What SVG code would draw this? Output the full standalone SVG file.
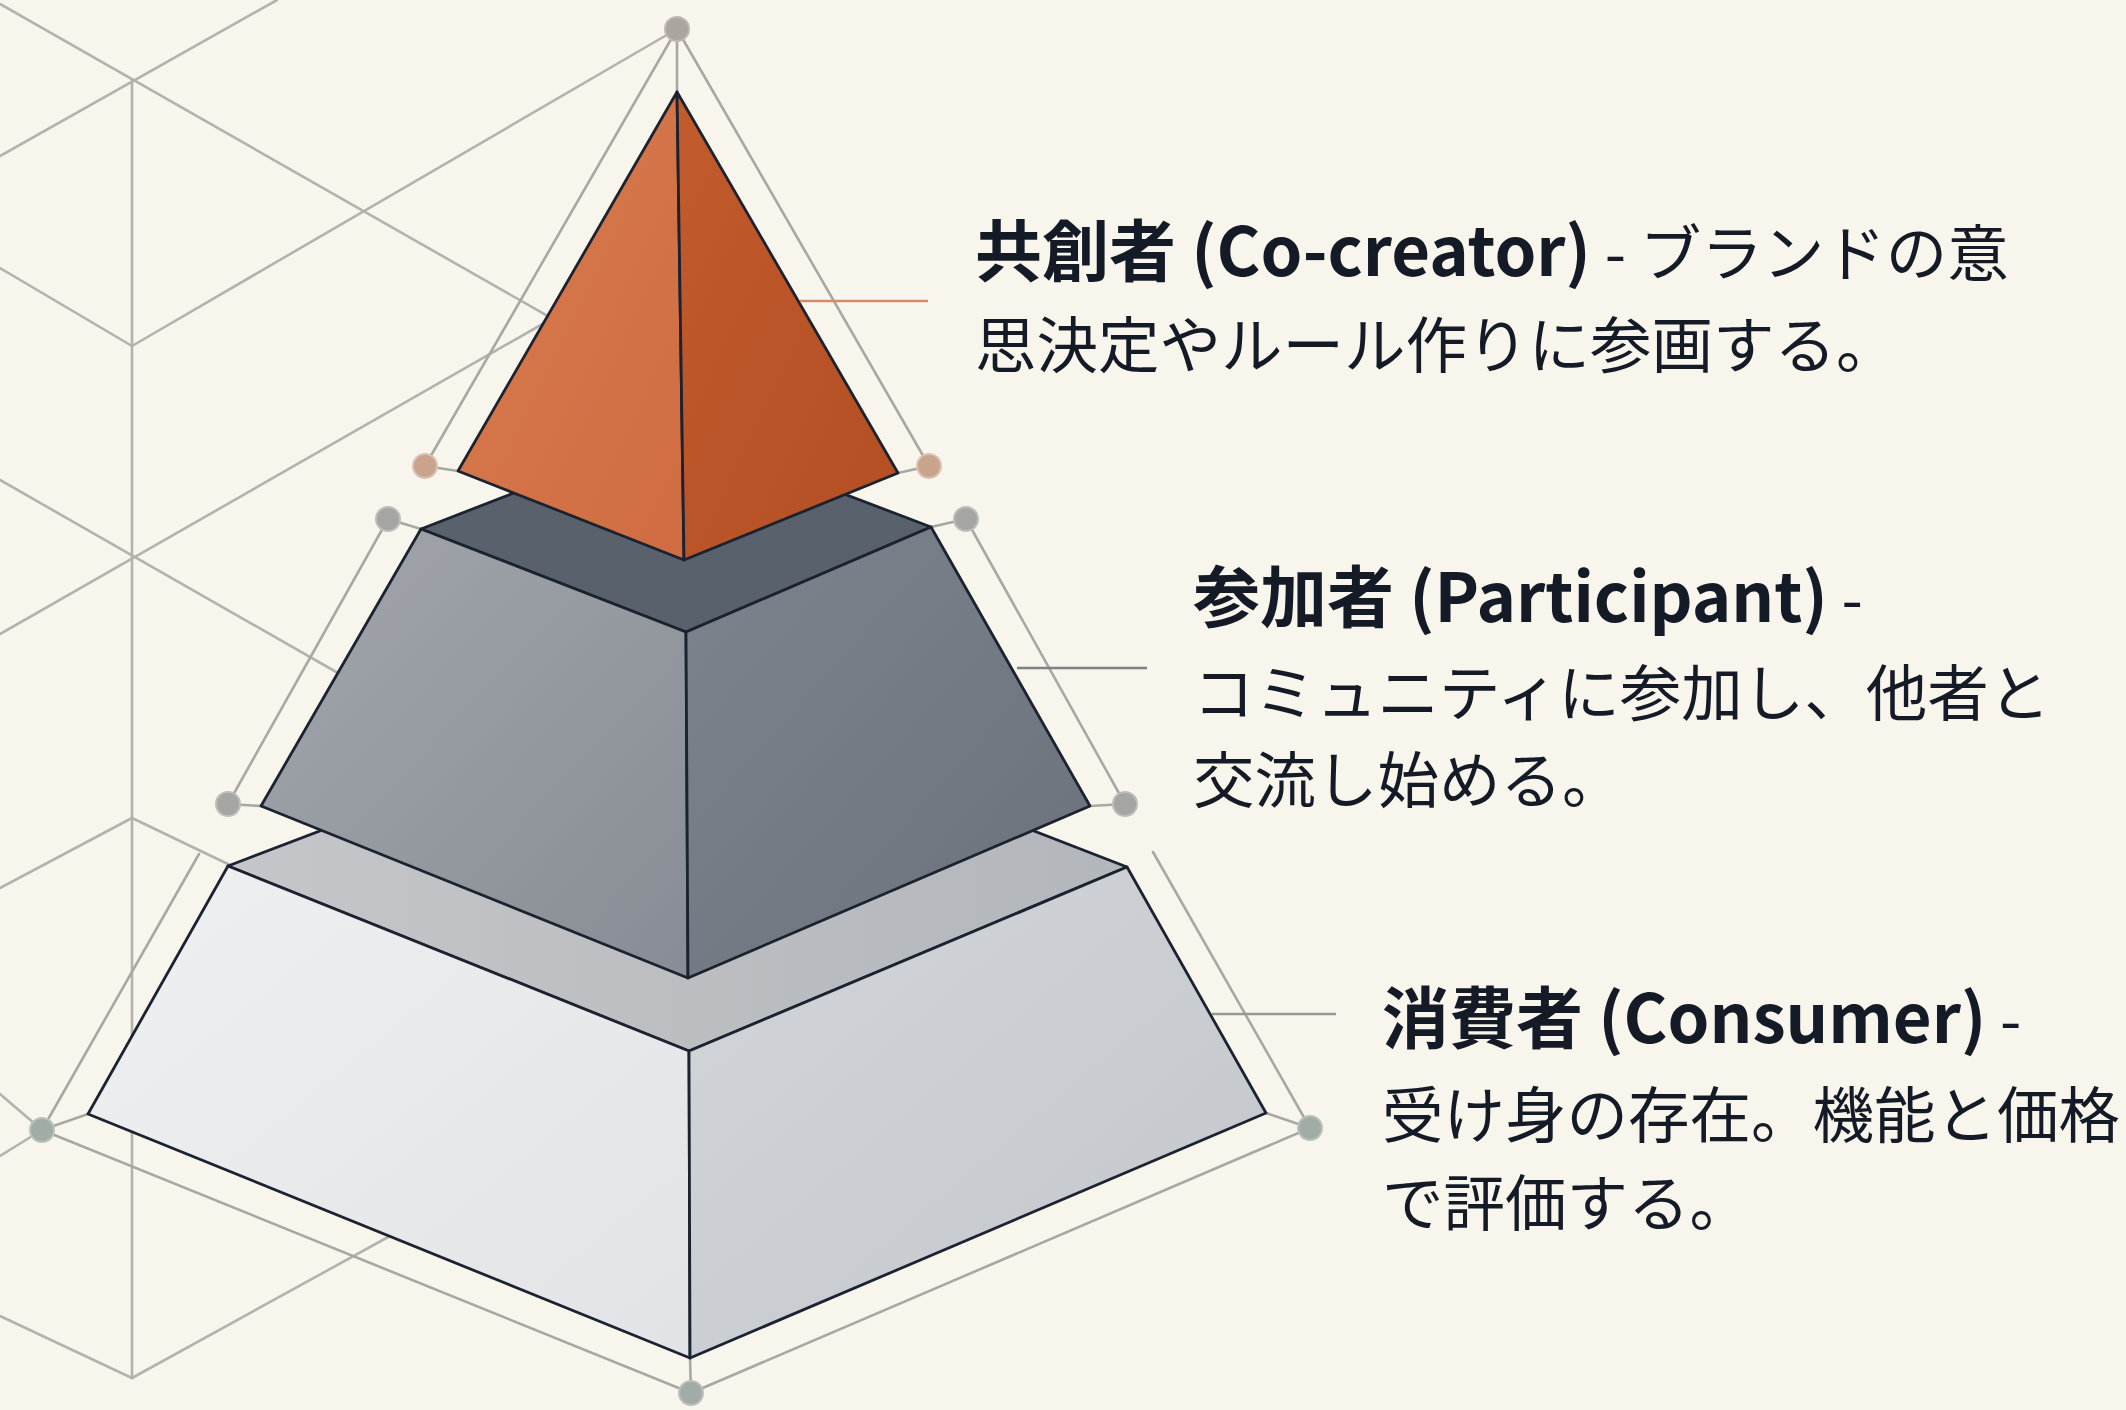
<svg xmlns="http://www.w3.org/2000/svg" width="2126" height="1410" viewBox="0 0 2126 1410">
  <style>
    .grid { stroke: #b3b2ac; stroke-width: 2.6; fill: none; stroke-linecap: round; }
    .frame { stroke: #a8a8a3; stroke-width: 2.6; fill: none; stroke-linecap: round; }
    .edge { stroke: #1c2330; stroke-width: 2.8; stroke-linejoin: round; }
    .lbl { font-family: "Noto Sans CJK JP", "Noto Sans", sans-serif; font-size: 61.5px; fill: #141a26; }
    .b { font-weight: 700; font-size: 67px; }
  </style>
  <defs>
    <linearGradient id="gOrL" x1="0" y1="0" x2="1" y2="1">
      <stop offset="0" stop-color="#d97b4f"/>
      <stop offset="1" stop-color="#cf6c42"/>
    </linearGradient>
    <linearGradient id="gOrR" x1="0" y1="0" x2="1" y2="1">
      <stop offset="0" stop-color="#c25b2d"/>
      <stop offset="1" stop-color="#b34f24"/>
    </linearGradient>
    <linearGradient id="gMidL" x1="0" y1="0" x2="1" y2="1">
      <stop offset="0" stop-color="#a2a6ac"/>
      <stop offset="1" stop-color="#888d95"/>
    </linearGradient>
    <linearGradient id="gMidR" x1="0" y1="0" x2="1" y2="1">
      <stop offset="0" stop-color="#7d848d"/>
      <stop offset="1" stop-color="#6a717b"/>
    </linearGradient>
    <linearGradient id="gBotL" x1="0" y1="0" x2="1" y2="1">
      <stop offset="0" stop-color="#eef0f1"/>
      <stop offset="1" stop-color="#e1e3e6"/>
    </linearGradient>
    <linearGradient id="gBotR" x1="0" y1="0" x2="1" y2="1">
      <stop offset="0" stop-color="#d3d6d9"/>
      <stop offset="1" stop-color="#c2c5ca"/>
    </linearGradient>
    <linearGradient id="gBotT" x1="0" y1="0" x2="1" y2="0">
      <stop offset="0" stop-color="#c4c6c9"/>
      <stop offset="1" stop-color="#b3b6ba"/>
    </linearGradient>
  </defs>

  <rect width="2126" height="1410" fill="#f8f5ed"/>

  <!-- isometric background grid -->
  <g id="grid" class="grid">
    <line x1="0" y1="4" x2="560" y2="323"/>
    <line x1="277" y1="0" x2="0" y2="156"/>
    <line x1="132" y1="80" x2="132" y2="1378"/>
    <line x1="677" y1="29" x2="132" y2="346"/>
    <line x1="0" y1="268" x2="132" y2="346"/>
    <line x1="0" y1="480" x2="345" y2="677"/>
    <line x1="0" y1="634" x2="560" y2="314"/>
    <line x1="0" y1="888" x2="132" y2="818"/>
    <line x1="132" y1="818" x2="232" y2="866"/>
    <line x1="0" y1="1094" x2="42" y2="1130"/>
    <line x1="0" y1="1156" x2="42" y2="1130"/>
    <line x1="0" y1="1316" x2="132" y2="1378"/>
    <line x1="132" y1="1378" x2="390" y2="1236"/>
  </g>

  <!-- guide frame and leader lines -->
  <g id="connectors">
    <g class="frame">
      <line x1="677" y1="29" x2="677" y2="92"/>
      <line x1="677" y1="29" x2="425" y2="466"/>
      <line x1="677" y1="29" x2="929" y2="466"/>
      <line x1="425" y1="466" x2="458" y2="471"/>
      <line x1="929" y1="466" x2="898" y2="473"/>
      <line x1="388" y1="519" x2="421" y2="529"/>
      <line x1="388" y1="519" x2="228" y2="804"/>
      <line x1="966" y1="519" x2="931" y2="527"/>
      <line x1="966" y1="519" x2="1125" y2="804"/>
      <line x1="228" y1="804" x2="261" y2="806"/>
      <line x1="1125" y1="804" x2="1090" y2="806"/>
      <line x1="199" y1="854" x2="42" y2="1130"/>
      <line x1="1153" y1="852" x2="1310" y2="1128"/>
      <line x1="42" y1="1130" x2="88" y2="1114"/>
      <line x1="1310" y1="1128" x2="1266" y2="1113"/>
      <line x1="42" y1="1130" x2="691" y2="1393"/>
      <line x1="1310" y1="1128" x2="691" y2="1393"/>
      <line x1="691" y1="1393" x2="690" y2="1358"/>
    </g>
  </g>

  <!-- base tier: consumer -->
  <g id="tier-consumer" class="edge">
    <polygon points="228,866 680,694 1127,867 689,1051" fill="url(#gBotT)"/>
    <polygon points="228,866 689,1051 690,1358 88,1114" fill="url(#gBotL)"/>
    <polygon points="689,1051 1127,867 1266,1113 690,1358" fill="url(#gBotR)"/>
  </g>

  <!-- middle tier: participant -->
  <g id="tier-participant" class="edge">
    <polygon points="421,529 676,430 931,527 686,632" fill="#59626c"/>
    <polygon points="421,529 686,632 688,978 261,806" fill="url(#gMidL)"/>
    <polygon points="686,632 931,527 1090,806 688,978" fill="url(#gMidR)"/>
  </g>

  <!-- top tier: co-creator -->
  <g id="tier-cocreator" class="edge">
    <polygon points="677,92 458,471 684,560" fill="url(#gOrL)"/>
    <polygon points="677,92 684,560 898,473" fill="url(#gOrR)"/>
  </g>

  <!-- leader lines from each tier to its label -->
  <g id="leaders" fill="none" stroke-width="2.6">
    <line x1="800" y1="301" x2="928" y2="301" stroke="#d28c6b"/>
    <line x1="1017" y1="668" x2="1147" y2="668" stroke="#7f8183"/>
    <line x1="1212" y1="1014" x2="1336" y2="1014" stroke="#949994"/>
  </g>

  <!-- joint dots -->
  <g id="dots">
    <circle cx="677" cy="29" r="12" fill="#aaa59e" stroke="#bdb8b1" stroke-width="2"/>
    <circle cx="425" cy="466" r="12" fill="#c9a38c" stroke="#d9c3b3" stroke-width="2"/>
    <circle cx="929" cy="466" r="12" fill="#c9a38c" stroke="#d9c3b3" stroke-width="2"/>
    <circle cx="388" cy="519" r="12" fill="#a5a5a3" stroke="#bdbdba" stroke-width="2"/>
    <circle cx="966" cy="519" r="12" fill="#a5a5a3" stroke="#bdbdba" stroke-width="2"/>
    <circle cx="228" cy="804" r="12" fill="#a5a5a3" stroke="#bdbdba" stroke-width="2"/>
    <circle cx="1125" cy="804" r="12" fill="#a5a5a3" stroke="#bdbdba" stroke-width="2"/>
    <circle cx="42" cy="1130" r="12" fill="#a2aca7" stroke="#b9c1bb" stroke-width="2"/>
    <circle cx="1310" cy="1128" r="12" fill="#a2aca7" stroke="#b9c1bb" stroke-width="2"/>
    <circle cx="691" cy="1393" r="12" fill="#a2aca7" stroke="#b9c1bb" stroke-width="2"/>
  </g>

  <!-- labels -->
  <g id="label-cocreator" class="lbl">
    <text x="975" y="276"><tspan class="b">共創者 (Co-creator)</tspan> - ブランドの意</text>
    <text x="975" y="368">思決定やルール作りに参画する。</text>
  </g>
  <g id="label-participant" class="lbl">
    <text x="1193" y="622"><tspan class="b">参加者 (Participant)</tspan> -</text>
    <text x="1193" y="716">コミュニティに参加し、他者と</text>
    <text x="1193" y="803">交流し始める。</text>
  </g>
  <g id="label-consumer" class="lbl">
    <text x="1382" y="1043"><tspan class="b">消費者 (Consumer)</tspan> -</text>
    <text x="1382" y="1138">受け身の存在。機能と価格</text>
    <text x="1382" y="1226">で評価する。</text>
  </g>
</svg>
